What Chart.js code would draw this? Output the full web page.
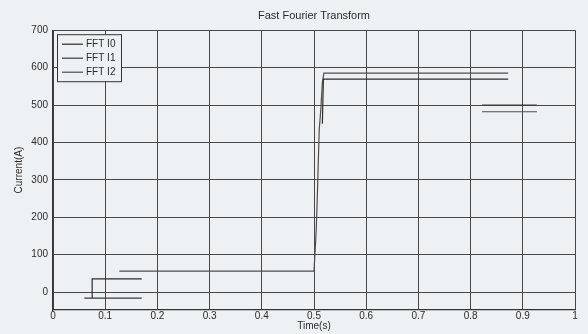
<!DOCTYPE html>
<html>
<head>
<meta charset="utf-8">
<script src="https://cdn.jsdelivr.net/npm/chart.js@4"></script>
<style>
  body { margin: 0; background: #eef1f3; }
  canvas { display: block; }
</style>
</head>
<body>
<canvas id="fftChart" width="588" height="334"></canvas>
<script>
const seriesNames = ["FFT I0", "FFT I1", "FFT I2"];
const seriesColors = ["#2b2b2b", "#3a3a3a", "#4d4d4d"];

// time (s) and current (A), null = break in the trace
const timeI0 = [0.075, 0.075, 0.170, 0.300, 0.516, 0.518, 0.872];
const currI0 = [-16, 35, 35, null, 450, 569, 569];
const timeI1 = [0.060, 0.170, 0.500, 0.822, 0.927];
const currI1 = [-16, -16, null, 500, 500];
const timeI2 = [0.127, 0.500, 0.504, 0.506, 0.510, 0.513, 0.516, 0.519, 0.872, 0.850, 0.822, 0.927];
const currI2 = [56, 56, 158, 238, 433, 487, 560, 585, 585, null, 482, 482];

const timeTicks = [0, 0.1, 0.2, 0.3, 0.4, 0.5, 0.6, 0.7, 0.8, 0.9, 1];
const currentTicks = [0, 100, 200, 300, 400, 500, 600, 700];

const toPoints = (xs, ys) => xs.map((x, i) => ({ x: x, y: ys[i] }));

const allSeries = [
  toPoints(timeI0, currI0),
  toPoints(timeI1, currI1),
  toPoints(timeI2, currI2)
];

const textFont = "'Liberation Sans', Arial, sans-serif";

// paper background
const paperBg = {
  id: "paperBg",
  beforeDraw(chart) {
    const ctx = chart.ctx;
    ctx.save();
    ctx.fillStyle = "#eef1f3";
    ctx.fillRect(0, 0, chart.width, chart.height);
    ctx.restore();
  }
};

// matlab style boxed legend in the top left corner of the axes
const boxLegend = {
  id: "boxLegend",
  afterDatasetsDraw(chart) {
    const ctx = chart.ctx;
    const area = chart.chartArea;
    const x = area.left + 4;
    const y = area.top + 4;
    const w = 64;
    const h = 47;
    ctx.save();
    ctx.fillStyle = "#eef1f3";
    ctx.fillRect(x, y, w, h);
    ctx.strokeStyle = "#333";
    ctx.lineWidth = 1;
    ctx.strokeRect(x + 0.5, y + 0.5, w, h);
    ctx.font = "10px " + textFont;
    ctx.textBaseline = "middle";
    chart.data.datasets.forEach((ds, i) => {
      const rowY = y + 10 + i * 14;
      ctx.strokeStyle = ds.borderColor;
      ctx.lineWidth = 1.2;
      ctx.beginPath();
      ctx.moveTo(x + 5, rowY);
      ctx.lineTo(x + 26, rowY);
      ctx.stroke();
      ctx.fillStyle = "#2a2a2a";
      ctx.fillText(ds.label, x + 29, rowY);
    });
    ctx.restore();
  }
};

new Chart(document.getElementById("fftChart"), {
  type: "line",
  data: {
    datasets: seriesNames.map((name, i) => ({
      label: name,
      data: allSeries[i],
      borderColor: seriesColors[i],
      borderWidth: 1.2,
      pointRadius: 0,
      tension: 0,
      spanGaps: false
    }))
  },
  options: {
    responsive: false,
    animation: false,
    layout: { padding: { left: 0, right: 13, top: 0, bottom: 0 } },
    plugins: {
      legend: { display: false },
      tooltip: { enabled: false },
      title: {
        display: true,
        fullSize: false,
        text: "Fast Fourier Transform",
        color: "#2a2a2a",
        font: { family: textFont, size: 11, weight: "normal" },
        padding: { top: 9, bottom: 8 }
      }
    },
    scales: {
      x: {
        type: "linear",
        min: 0,
        max: 1,
        afterBuildTicks: (scale) => { scale.ticks = timeTicks.map(v => ({ value: v })); },
        afterFit: (scale) => { scale.height = 24; },
        ticks: {
          color: "#2a2a2a",
          font: { family: textFont, size: 10 },
          padding: 0,
          maxRotation: 0,
          autoSkip: false,
          callback: (v) => String(v)
        },
        grid: { color: "#474747", lineWidth: 1, drawTicks: false },
        border: { color: "#333", width: 1.2 },
        title: {
          display: true,
          text: "Time(s)",
          color: "#2a2a2a",
          font: { family: textFont, size: 10 },
          padding: { top: 0, bottom: 2 }
        }
      },
      y: {
        type: "linear",
        min: -48,
        max: 700,
        afterBuildTicks: (scale) => { scale.ticks = currentTicks.map(v => ({ value: v })); },
        afterFit: (scale) => { scale.width = 53; },
        ticks: {
          color: "#2a2a2a",
          font: { family: textFont, size: 10 },
          padding: 5
        },
        grid: { color: "#474747", lineWidth: 1, drawTicks: false },
        border: { color: "#333", width: 1.2 },
        title: {
          display: true,
          text: "Current(A)",
          color: "#2a2a2a",
          font: { family: textFont, size: 10 },
          padding: { top: 13, bottom: 0 }
        }
      }
    }
  },
  plugins: [paperBg, boxLegend]
});
</script>
</body>
</html>
